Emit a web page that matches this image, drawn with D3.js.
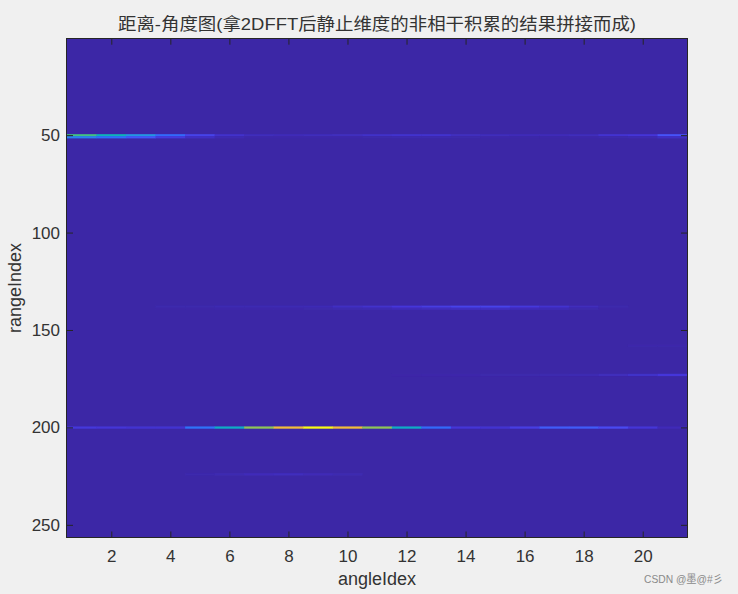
<!DOCTYPE html>
<html><head><meta charset="utf-8">
<script src="https://cdn.jsdelivr.net/npm/d3@7"></script>
<style>html,body{margin:0;padding:0;background:#f0f0f0;overflow:hidden}
text{font-family:"Liberation Sans","Noto Sans CJK SC",sans-serif;fill:#333}</style>
</head><body><svg id="c" width="738" height="594"></svg>
<script>
const angleTicks=[2,4,6,8,10,12,14,16,18,20];
const rangeTicks=[50,100,150,200,250];
const titleText="距离-角度图(拿2DFFT后静止维度的非相干积累的结果拼接而成)";
const xLabel="angleIdex", yLabel="rangeIndex", watermark="CSDN @墨@#彡";
const rowIndex=[50,51,138,139,158,173,200,224];
const row50 =[.60,.48,.36,.24,.13,.06,.035,.03,.035,.04,.055,.065,.065,.04,.035,.03,.03,.035,.07,.08,.18];
const row51 =[.30,.25,.19,.10,.05,.02,.008,.008,.008,.008,.01,.015,.015,.01,.008,.005,.005,.008,.012,.02,.05];
const row138=[0,0,0,.012,.012,.02,.02,.022,.025,.045,.06,.085,.105,.13,.13,.09,.065,.035,.01,0,0];
const row139=[0,0,0,.003,.005,.008,.008,.008,.01,.016,.022,.032,.038,.045,.045,.032,.026,.012,.004,0,0];
const row158=[0,0,0,0,0,0,0,0,0,0,0,0,0,0,0,0,0,0,0,.008,.008];
const row173=[0,0,0,0,0,0,0,0,0,0,0,.004,.006,.008,.01,.012,.015,.02,.035,.055,.085];
const row200=[.09,.08,.07,.07,.26,.45,.68,.84,1,.84,.68,.45,.24,.08,.07,.11,.2,.2,.15,.08,.03];
const row224=[0,0,0,0,.012,.02,.032,.038,.028,.018,0,0,0,0,0,0,0,0,0,0,0];
const rowValues=[row50,row51,row138,row139,row158,row173,row200,row224];
const parulaStops=["#3c27a6","#4435d9","#4a4ef8","#2f6ffa","#2a8ee8","#15a7d3","#07b7b0","#33c08a","#84c55f","#c1c13b","#f0ba3a","#fdd835","#f9fb15"];

const L=67,R=687,T=38.7,B=537.5;
const angles=d3.range(1,22);
const x=d3.scaleBand().domain(angles).range([L,R]);
const xTick=d3.scaleLinear().domain([.5,21.5]).range([L,R]);
const y=d3.scaleLinear().domain([.5,256.5]).range([T,B]);
const color=d3.scaleLinear().domain(parulaStops.map((_,i)=>i/(parulaStops.length-1))).range(parulaStops).interpolate(d3.interpolateRgb);
const svg=d3.select("#c");
const defs=svg.append("defs");
defs.append("filter").attr("id","soft").attr("x","-2%").attr("y","-200%").attr("width","104%").attr("height","500%")
  .append("feGaussianBlur").attr("stdDeviation","0.5 0.35");
defs.append("clipPath").attr("id","plot").append("rect").attr("x",L).attr("y",T).attr("width",R-L).attr("height",B-T);
const plot=svg.append("g").attr("clip-path","url(#plot)");
plot.append("rect").attr("x",L).attr("y",T).attr("width",R-L).attr("height",B-T).attr("fill",color(0));
const cells=rowIndex.flatMap((r,i)=>rowValues[i].map((v,j)=>({r,a:angles[j],v}))).filter(d=>d.v>0);
plot.append("g").attr("filter","url(#soft)").selectAll("rect").data(cells).join("rect")
  .attr("x",d=>x(d.a)).attr("width",x.bandwidth()+.3)
  .attr("y",d=>y(d.r-.5)).attr("height",y(1.5)-y(.5)+.3).attr("fill",d=>color(d.v));

function styleAxis(g){g.select(".domain").remove();g.selectAll("line").attr("stroke","#262626").attr("stroke-width",1);
  g.selectAll("text").style("font-size","17px");}
svg.append("g").attr("transform",`translate(0,${B})`).call(d3.axisBottom(xTick).tickValues(angleTicks).tickFormat(d3.format("d")).tickSizeInner(-6).tickPadding(12.5)).call(styleAxis);
svg.append("g").attr("transform",`translate(0,${T})`).call(d3.axisTop(xTick).tickValues(angleTicks).tickFormat("").tickSizeInner(-6)).call(styleAxis);
svg.append("g").attr("transform",`translate(${L},0)`).call(d3.axisLeft(y).tickValues(rangeTicks).tickFormat(d3.format("d")).tickSizeInner(-6).tickPadding(7)).call(styleAxis);
svg.append("g").attr("transform",`translate(${R},0)`).call(d3.axisRight(y).tickValues(rangeTicks).tickFormat("").tickSizeInner(-6)).call(styleAxis);
svg.append("rect").attr("x",L-.5).attr("y",38.5).attr("width",R-L+1).attr("height",499).attr("fill","none").attr("stroke","#262626");
svg.append("text").attr("x",377).attr("y",30).attr("text-anchor","middle").attr("textLength",518).attr("lengthAdjust","spacingAndGlyphs").style("font-size","17px").text(titleText);
svg.append("text").attr("x",377).attr("y",585).attr("text-anchor","middle").style("font-size","18px").text(xLabel);
svg.append("text").attr("transform","translate(21,288) rotate(-90)").attr("text-anchor","middle").style("font-size","18px").text(yLabel);
svg.append("text").attr("x",644).attr("y",583).attr("textLength",79).attr("lengthAdjust","spacingAndGlyphs").style("font-size","11px").style("fill","#8a8a8a").text(watermark);
</script></body></html>
